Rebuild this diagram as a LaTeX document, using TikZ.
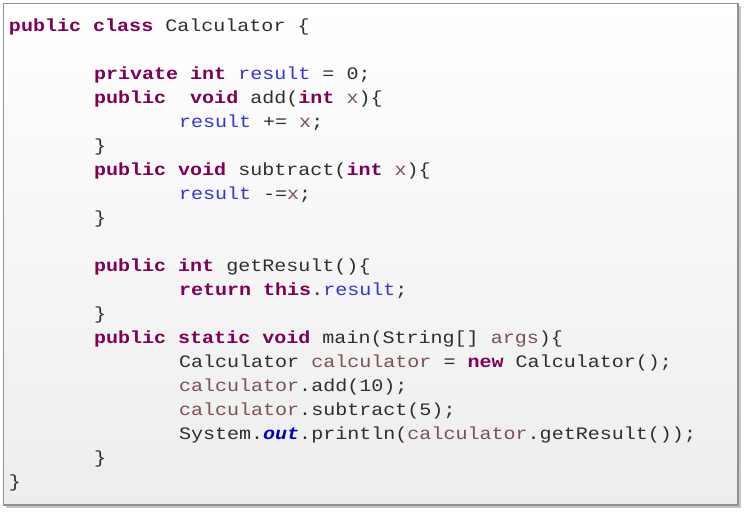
\documentclass[tikz,border=0pt]{standalone}
\usepackage{fontspec}
\newfontfamily\codefont[FakeStretch=1.145]{Liberation Mono}
\definecolor{kwc}{HTML}{7F0055}
\definecolor{fldc}{HTML}{3535D5}
\definecolor{locc}{HTML}{7A5252}
\definecolor{txtc}{HTML}{2E2E2E}
\definecolor{outc}{HTML}{0000C0}
\definecolor{boxc}{HTML}{929292}
\newcommand\ckw[1]{{\color{kwc}\bfseries #1}}
\newcommand\cfld[1]{{\color{fldc}#1}}
\newcommand\cloc[1]{{\color{locc}#1}}
\newcommand\cout[1]{{\color{outc}\bfseries\itshape #1}}
\begin{document}
\begin{tikzpicture}[x=1pt,y=-1pt,
  codeline/.style={anchor=base west, inner sep=0pt, outer sep=0pt, font=\codefont\fontsize{17.5}{20}\selectfont, text=txtc}]
\useasboundingbox (0,0) rectangle (745,512);
% shadow
\fill[black!22] (5.5,5.5) rectangle (740.5,507.5);
% box
\shade[top color=white, bottom color=black!7] (3.5,3.5) rectangle (738,505);
\draw[boxc, line width=1.6pt] (3.5,3.5) rectangle (738,505);
% code lines
\def\ia{9}
\def\ib{94}
\def\ic{179}
\node[codeline] (l1) at (\ia,31) {\ckw{public} \ckw{class} Calculator \{};
\node[codeline] (l3) at (\ib,79) {\ckw{private} \ckw{int} \cfld{result} = 0;};
\node[codeline] (l4) at (\ib,103) {\ckw{public}\ \ \ckw{void} add(\ckw{int} \cloc{x})\{};
\node[codeline] (l5) at (\ic,127) {\cfld{result} += \cloc{x};};
\node[codeline] (l6) at (\ib,151) {\}};
\node[codeline] (l7) at (\ib,175) {\ckw{public} \ckw{void} subtract(\ckw{int} \cloc{x})\{};
\node[codeline] (l8) at (\ic,199) {\cfld{result} -=\cloc{x};};
\node[codeline] (l9) at (\ib,223) {\}};
\node[codeline] (l11) at (\ib,271) {\ckw{public} \ckw{int} getResult()\{};
\node[codeline] (l12) at (\ic,295) {\ckw{return} \ckw{this}.\cfld{result};};
\node[codeline] (l13) at (\ib,319) {\}};
\node[codeline] (l14) at (\ib,343) {\ckw{public} \ckw{static} \ckw{void} main(String[] \cloc{args})\{};
\node[codeline] (l15) at (\ic,367) {Calculator \cloc{calculator} = \ckw{new} Calculator();};
\node[codeline] (l16) at (\ic,391) {\cloc{calculator}.add(10);};
\node[codeline] (l17) at (\ic,415) {\cloc{calculator}.subtract(5);};
\node[codeline] (l18) at (\ic,439) {System.\cout{out}.println(\cloc{calculator}.getResult());};
\node[codeline] (l19) at (\ib,463) {\}};
\node[codeline] (l20) at (\ia,487) {\}};
\end{tikzpicture}
\end{document}
